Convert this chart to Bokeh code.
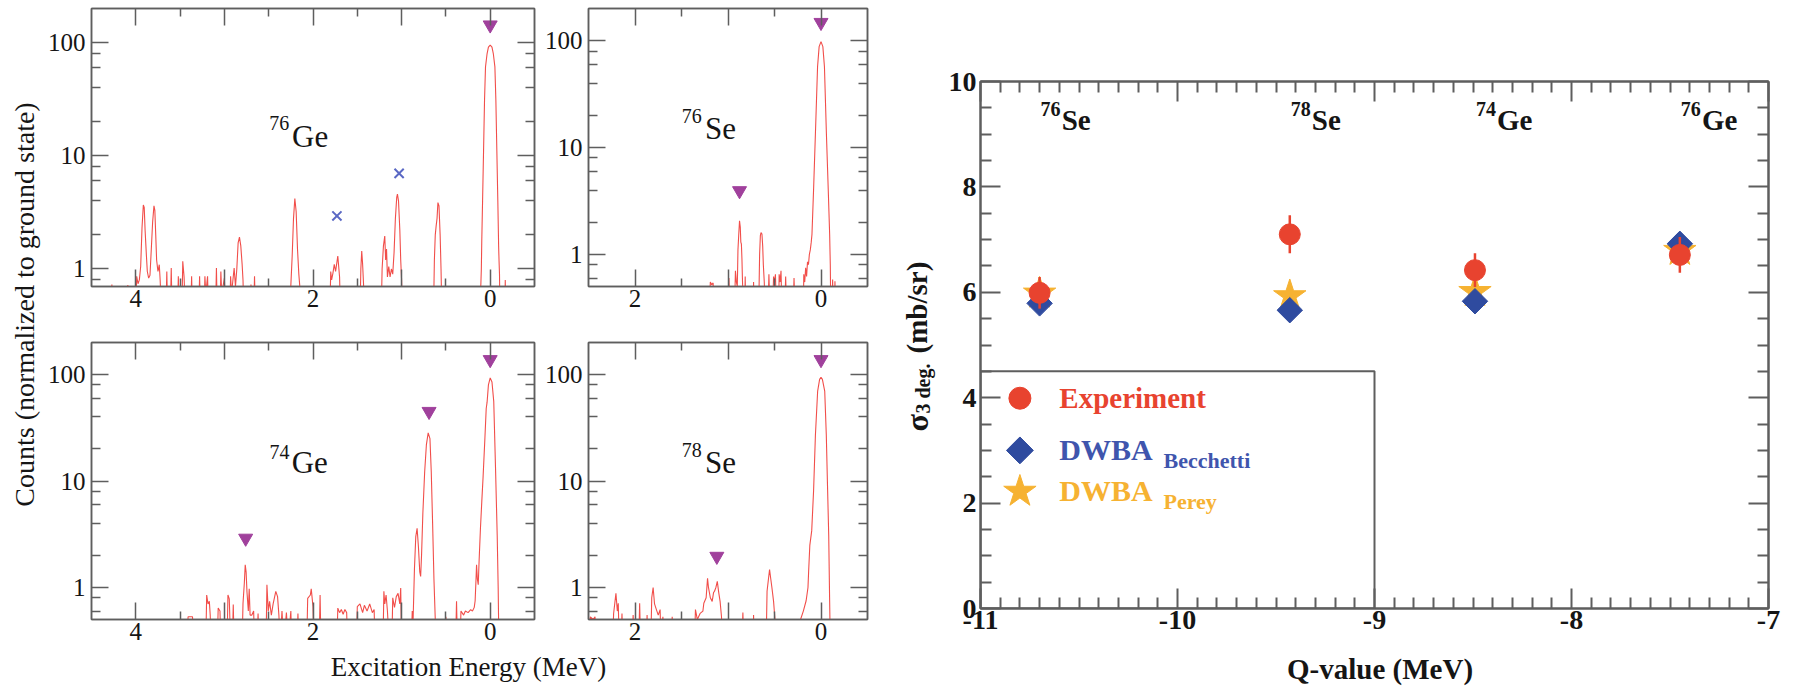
import math

from bokeh.embed import file_html
from bokeh.layouts import column, row
from bokeh.models import (BoxAnnotation, CustomJSTickFormatter, FixedTicker,
                          Label, LinearAxis, LogAxis, Range1d)
from bokeh.plotting import figure
from bokeh.resources import INLINE

# ---------------------------------------------------------------------------
# Excitation spectra: (excitation energy in MeV, counts normalised to g.s.)
# points below the lower axis limit simply run off the bottom of the frame
# ---------------------------------------------------------------------------
GE76 = [(4.50, 0.4), (4.28, 0.4), (4.27, 0.73), (4.26, 0.4), (4.10, 0.4), (4.09, 0.72), (4.08, 0.4),
        (4.00, 0.4), (3.99, 0.86), (3.975, 0.74), (3.96, 0.80), (3.945, 1.05), (3.93, 2.3), (3.915, 3.68),
        (3.905, 3.5), (3.895, 2.2), (3.88, 1.3), (3.87, 0.95), (3.855, 0.83), (3.84, 0.88), (3.825, 1.5),
        (3.81, 2.6), (3.795, 3.61), (3.785, 3.3), (3.775, 2.0), (3.765, 1.2), (3.75, 0.95), (3.735, 1.09),
        (3.725, 0.8), (3.71, 0.4), (3.66, 0.4), (3.65, 0.95), (3.64, 0.4), (3.61, 0.4), (3.60, 1.02),
        (3.59, 0.4), (3.53, 0.4), (3.52, 0.86), (3.51, 0.4), (3.48, 0.4), (3.47, 1.17), (3.455, 0.85),
        (3.44, 0.4), (3.38, 0.4), (3.37, 0.86), (3.36, 0.4), (3.29, 0.4), (3.28, 0.86), (3.27, 0.4),
        (3.23, 0.4), (3.22, 0.86), (3.21, 0.6), (3.19, 0.86), (3.18, 0.4), (3.10, 0.4), (3.09, 1.02),
        (3.08, 0.4), (3.05, 0.4), (3.04, 0.95), (3.03, 0.6), (3.00, 0.83), (2.99, 0.4), (2.94, 0.4),
        (2.93, 0.86), (2.92, 0.6), (2.89, 1.02), (2.875, 0.7), (2.86, 1.0), (2.845, 1.7), (2.83, 1.91),
        (2.815, 1.6), (2.80, 1.1), (2.79, 0.8), (2.78, 0.4), (2.71, 0.4), (2.70, 0.73), (2.69, 0.4),
        (2.67, 0.4), (2.66, 0.86), (2.65, 0.4), (2.26, 0.4), (2.25, 0.72), (2.235, 1.3), (2.22, 2.8),
        (2.205, 4.19), (2.19, 3.2), (2.175, 1.5), (2.16, 0.9), (2.15, 0.72), (2.14, 0.4), (1.81, 0.4),
        (1.80, 0.95), (1.79, 0.8), (1.775, 0.92), (1.76, 1.1), (1.745, 0.95), (1.73, 1.15), (1.72, 1.3),
        (1.71, 1.05), (1.70, 0.85), (1.69, 0.4), (1.47, 0.4), (1.46, 1.0), (1.45, 1.44), (1.44, 1.1),
        (1.43, 0.75), (1.42, 0.4), (1.23, 0.4), (1.22, 1.0), (1.205, 1.6), (1.19, 1.95), (1.18, 1.2),
        (1.17, 1.5), (1.16, 0.85), (1.145, 1.05), (1.13, 0.85), (1.115, 1.0), (1.10, 0.9), (1.085, 1.4),
        (1.07, 2.8), (1.055, 4.3), (1.047, 4.58), (1.035, 4.0), (1.02, 2.2), (1.01, 1.2), (1.00, 0.8),
        (0.99, 0.4), (0.64, 0.4), (0.63, 1.2), (0.62, 2.0), (0.61, 2.4), (0.60, 2.8), (0.59, 3.86),
        (0.578, 3.6), (0.565, 2.0), (0.555, 1.0), (0.545, 0.4), (0.12, 0.4), (0.105, 0.75), (0.10, 1.0),
        (0.095, 1.8), (0.086, 4.0), (0.075, 11), (0.064, 31), (0.053, 61), (0.035, 80), (0.02, 91),
        (0.0, 95), (-0.02, 91), (-0.035, 80), (-0.053, 61), (-0.064, 31), (-0.075, 11), (-0.086, 4.0),
        (-0.095, 1.6), (-0.10, 1.17), (-0.105, 0.9), (-0.11, 0.4), (-0.165, 0.4), (-0.17, 0.8),
        (-0.175, 0.4), (-0.50, 0.4)]

SE76 = [(2.50, 0.3), (1.20, 0.3), (1.19, 0.55), (1.175, 0.52), (1.16, 0.54), (1.15, 0.3), (1.00, 0.3),
        (0.99, 0.6), (0.98, 0.3), (0.93, 0.3), (0.92, 0.7), (0.91, 0.55), (0.90, 0.5), (0.893, 1.1),
        (0.885, 1.5), (0.876, 2.06), (0.868, 1.8), (0.862, 1.3), (0.856, 1.25), (0.85, 0.9), (0.845, 0.6),
        (0.835, 0.3), (0.82, 0.3), (0.815, 0.62), (0.81, 0.3), (0.73, 0.3), (0.725, 0.55), (0.72, 0.3),
        (0.67, 0.3), (0.66, 1.0), (0.652, 1.5), (0.645, 1.6), (0.635, 1.55), (0.627, 1.2), (0.62, 0.8),
        (0.61, 0.55), (0.60, 0.3), (0.57, 0.3), (0.56, 0.65), (0.55, 0.3), (0.52, 0.3), (0.51, 0.62),
        (0.50, 0.55), (0.49, 0.65), (0.48, 0.3), (0.455, 0.3), (0.45, 0.65), (0.44, 0.55), (0.43, 0.7),
        (0.42, 0.3), (0.39, 0.3), (0.38, 0.62), (0.37, 0.3), (0.30, 0.3), (0.29, 0.6), (0.28, 0.3),
        (0.19, 0.3), (0.185, 0.65), (0.175, 0.55), (0.165, 0.75), (0.155, 0.62), (0.145, 0.85),
        (0.135, 0.8), (0.125, 1.0), (0.115, 1.1), (0.105, 1.3), (0.097, 1.54), (0.08, 4.0), (0.06, 13.5),
        (0.037, 57), (0.02, 88), (0.0, 98), (-0.02, 88), (-0.037, 57), (-0.058, 13.5), (-0.078, 4.0),
        (-0.093, 1.54), (-0.10, 0.8), (-0.105, 0.3), (-0.12, 0.3), (-0.125, 0.58), (-0.13, 0.3),
        (-0.145, 0.3), (-0.15, 0.56), (-0.155, 0.3), (-0.50, 0.3)]

GE74 = [(4.50, 0.3), (3.42, 0.3), (3.41, 0.53), (3.36, 0.53), (3.35, 0.3), (3.21, 0.3), (3.20, 0.85),
        (3.185, 0.7), (3.17, 0.74), (3.16, 0.55), (3.15, 0.3), (3.08, 0.3), (3.07, 0.64), (3.05, 0.6),
        (3.04, 0.3), (2.97, 0.3), (2.96, 0.85), (2.945, 0.78), (2.93, 0.3), (2.91, 0.3), (2.90, 0.69),
        (2.89, 0.3), (2.80, 0.3), (2.79, 0.71), (2.775, 1.1), (2.765, 1.63), (2.755, 1.4), (2.745, 0.9),
        (2.73, 0.6), (2.72, 0.97), (2.71, 0.55), (2.69, 0.55), (2.67, 0.6), (2.66, 0.3), (2.63, 0.3),
        (2.62, 0.57), (2.61, 0.3), (2.53, 0.3), (2.52, 1.06), (2.505, 0.6), (2.49, 0.74), (2.47, 0.55),
        (2.45, 0.7), (2.42, 0.92), (2.40, 0.82), (2.385, 0.55), (2.37, 0.3), (2.35, 0.6), (2.33, 0.3),
        (2.30, 0.58), (2.28, 0.3), (2.25, 0.6), (2.24, 0.3), (2.18, 0.3), (2.17, 0.57), (2.16, 0.3),
        (2.07, 0.3), (2.06, 0.79), (2.03, 0.85), (2.02, 0.97), (2.00, 0.66), (1.99, 0.3), (1.93, 0.3),
        (1.92, 0.85), (1.91, 0.3), (1.73, 0.3), (1.72, 0.64), (1.70, 0.58), (1.68, 0.62), (1.66, 0.56),
        (1.64, 0.62), (1.62, 0.58), (1.61, 0.3), (1.51, 0.3), (1.50, 0.66), (1.47, 0.7), (1.44, 0.58),
        (1.42, 0.68), (1.39, 0.6), (1.36, 0.7), (1.33, 0.58), (1.31, 0.62), (1.30, 0.3), (1.21, 0.3),
        (1.20, 0.92), (1.19, 0.7), (1.175, 0.85), (1.16, 0.6), (1.14, 0.3), (1.11, 0.3), (1.10, 0.8),
        (1.08, 0.65), (1.06, 0.82), (1.04, 0.88), (1.02, 0.7), (1.01, 0.99), (1.00, 0.3), (0.89, 0.3),
        (0.88, 0.6), (0.87, 0.5), (0.855, 1.5), (0.84, 3.0), (0.825, 3.6), (0.81, 2.4), (0.795, 1.4),
        (0.785, 1.27), (0.775, 2.0), (0.76, 5.0), (0.74, 12), (0.72, 22), (0.70, 28.3), (0.68, 25),
        (0.665, 12), (0.65, 4.0), (0.635, 1.2), (0.62, 0.5), (0.61, 0.3), (0.51, 0.3), (0.50, 0.53),
        (0.49, 0.3), (0.39, 0.3), (0.38, 0.74), (0.37, 0.3), (0.34, 0.3), (0.33, 0.6), (0.30, 0.55),
        (0.28, 0.6), (0.25, 0.58), (0.22, 0.62), (0.20, 0.6), (0.18, 0.65), (0.17, 0.75), (0.16, 1.2),
        (0.154, 1.63), (0.145, 1.2), (0.135, 1.06), (0.125, 1.8), (0.11, 3.6), (0.095, 6.4), (0.08, 11),
        (0.06, 25), (0.045, 48), (0.035, 55), (0.02, 80), (0.0, 93), (-0.02, 85), (-0.04, 56),
        (-0.06, 13.3), (-0.079, 3.1), (-0.09, 1.0), (-0.098, 0.3), (-0.50, 0.3)]

SE78 = [(2.50, 0.3), (2.48, 0.53), (2.45, 0.5), (2.43, 0.53), (2.42, 0.3), (2.24, 0.3), (2.23, 0.57),
        (2.205, 0.88), (2.19, 0.6), (2.18, 0.71), (2.17, 0.3), (2.15, 0.3), (2.14, 0.57), (2.13, 0.3),
        (2.03, 0.3), (2.02, 0.55), (2.01, 0.3), (1.96, 0.3), (1.95, 0.71), (1.94, 0.3), (1.88, 0.3),
        (1.87, 0.55), (1.86, 0.3), (1.83, 0.3), (1.82, 0.8), (1.805, 1.0), (1.79, 0.7), (1.77, 0.62),
        (1.75, 0.55), (1.73, 0.62), (1.72, 0.3), (1.70, 0.53), (1.69, 0.3), (1.61, 0.3), (1.60, 0.53),
        (1.59, 0.3), (1.36, 0.3), (1.35, 0.62), (1.33, 0.5), (1.30, 0.57), (1.27, 0.6), (1.26, 0.71),
        (1.235, 0.8), (1.22, 1.22), (1.21, 1.0), (1.19, 0.8), (1.17, 0.74), (1.155, 0.9), (1.145, 0.92),
        (1.13, 1.0), (1.115, 1.14), (1.10, 0.9), (1.085, 0.74), (1.07, 0.53), (1.06, 0.3), (0.85, 0.3),
        (0.84, 0.58), (0.83, 0.3), (0.73, 0.3), (0.725, 0.55), (0.72, 0.3), (0.59, 0.3), (0.58, 0.92),
        (0.565, 1.2), (0.553, 1.47), (0.54, 1.2), (0.528, 1.0), (0.51, 0.74), (0.495, 0.5), (0.49, 0.3),
        (0.23, 0.3), (0.22, 0.5), (0.19, 0.6), (0.16, 0.75), (0.14, 1.0), (0.133, 1.41), (0.12, 2.5),
        (0.10, 3.4), (0.08, 8.0), (0.06, 27), (0.036, 70), (0.015, 90), (0.0, 94), (-0.015, 90),
        (-0.04, 70), (-0.057, 27), (-0.07, 9.0), (-0.083, 3.1), (-0.093, 0.74), (-0.10, 0.3), (-0.50, 0.3)]

# states marked above the peaks (energy, counts)
GE76_MARK_E, GE76_MARK_C = [0.0], [143]
GE76_CROSS_E, GE76_CROSS_C = [1.73, 1.028], [2.94, 6.99]
SE76_MARK_E, SE76_MARK_C = [0.0, 0.876], [148, 3.94]
GE74_MARK_E, GE74_MARK_C = [0.0, 0.69, 2.76], [138, 45, 2.9]
SE78_MARK_E, SE78_MARK_C = [0.0, 1.12], [138, 1.96]

# ---------------------------------------------------------------------------
# 3 degree cross sections versus Q-value
# ---------------------------------------------------------------------------
NUC_MASS = ["76", "78", "74", "76"]
NUC_SYM = ["Se", "Se", "Ge", "Ge"]
Q_VALUE = [-10.70, -9.43, -8.49, -7.45]
SIG_EXP = [5.99, 7.10, 6.42, 6.71]
SIG_EXP_ERR = [0.30, 0.36, 0.32, 0.34]
SIG_BECCHETTI = [5.79, 5.66, 5.83, 6.92]
SIG_PEREY = [5.98, 5.93, 6.01, 6.79]

SPEC_X_TICKS = [0, 1, 2, 3, 4]
SPEC_X_TICKS_NARROW = [0, 1, 2]
LOG_MAJOR = [1, 10, 100]
LOG_MINOR = [0.6, 0.8, 2, 4, 6, 8, 20, 40, 60, 80]

SERIF = "Liberation Serif"
FRAME = "#5e5e5e"
INK = "#151515"
SPEC_RED = "#ef3b36"
MARK_PURPLE = "#a0409c"
CROSS_BLUE = "#5a68c4"
EXP_RED = "#e8432f"
BEC_BLUE = "#2f4b9f"
BEC_TEXT = "#3f55ad"
PER_ORANGE = "#f6b232"

EVEN_ONLY = "const v = Math.round(tick); return (v % 2 === 0) ? String(v) : '';"
PLAIN = "return String(tick);"
BLANK = "return '';"


def style_axis(ax, major, minor, size, bold=False, standoff=4, labels=True, width=1.5):
    ax.axis_line_color = FRAME
    ax.axis_line_width = width
    ax.major_tick_line_color = FRAME
    ax.minor_tick_line_color = FRAME
    ax.major_tick_line_width = width
    ax.minor_tick_line_width = width
    ax.major_tick_in = major
    ax.major_tick_out = 0
    ax.minor_tick_in = minor
    ax.minor_tick_out = 0
    ax.major_label_text_font = SERIF
    ax.major_label_text_font_size = size
    ax.major_label_text_font_style = "bold" if bold else "normal"
    ax.major_label_text_color = INK
    ax.major_label_standoff = standoff
    if not labels:
        ax.formatter = CustomJSTickFormatter(code=BLANK)
        ax.major_label_text_color = None
        ax.major_label_standoff = 0


def tag(p, x, y, text, size, bold=False, color=INK, angle=0.0, align="left"):
    p.add_layout(Label(x=x, y=y, text=text, text_font=SERIF, text_font_size=f"{size}px",
                       text_font_style="bold" if bold else "normal", text_color=color,
                       angle=angle, text_align=align, text_baseline="alphabetic"))


def blank_canvas(width, height):
    c = figure(width=width, height=height, x_range=Range1d(0, width), y_range=Range1d(0, height),
               x_axis_type=None, y_axis_type=None, output_backend="svg",
               toolbar_location=None, min_border=0, outline_line_color=None)
    c.grid.visible = False
    return c


def spectrum_panel(points, x_start, x_major, y_start, width, height, borders):
    left, right, top, bottom = borders
    p = figure(width=width, height=height, x_range=Range1d(x_start, -0.5),
               y_range=Range1d(y_start, 200), y_axis_type="log",
               output_backend="svg", toolbar_location=None,
               min_border_left=left, min_border_right=right,
               min_border_top=top, min_border_bottom=bottom)
    p.grid.visible = False
    p.outline_line_color = FRAME
    p.outline_line_width = 1.5
    x_minor = [t + 0.5 for t in x_major[:-1]]

    p.xaxis.ticker = FixedTicker(ticks=x_major, minor_ticks=x_minor)
    p.xaxis.formatter = CustomJSTickFormatter(code=EVEN_ONLY)
    style_axis(p.xaxis[0], 17, 8, "25px", standoff=3)
    p.yaxis.ticker = FixedTicker(ticks=LOG_MAJOR, minor_ticks=LOG_MINOR)
    p.yaxis.formatter = CustomJSTickFormatter(code=PLAIN)
    style_axis(p.yaxis[0], 17, 9, "25px", standoff=6)

    top_ax = LinearAxis(ticker=FixedTicker(ticks=x_major, minor_ticks=x_minor))
    style_axis(top_ax, 17, 8, "25px", labels=False)
    p.add_layout(top_ax, "above")
    right_ax = LogAxis(ticker=FixedTicker(ticks=LOG_MAJOR, minor_ticks=LOG_MINOR))
    style_axis(right_ax, 17, 9, "25px", labels=False)
    p.add_layout(right_ax, "right")

    energies = [e for e, _ in points]
    counts = [c for _, c in points]
    p.line(energies, counts, line_color=SPEC_RED, line_width=1.1, line_alpha=0.9)
    return p


def add_marks(p, e, c):
    p.scatter(e, c, marker="inverted_triangle", size=14, fill_color=MARK_PURPLE,
              line_color=MARK_PURPLE)


# ---------------------------------------------------------------------------
# four spectra
# ---------------------------------------------------------------------------
p1 = spectrum_panel(GE76, 4.5, SPEC_X_TICKS, 0.7, 493, 325, (45, 3, 8, 39))
add_marks(p1, GE76_MARK_E, GE76_MARK_C)
p1.scatter(GE76_CROSS_E, GE76_CROSS_C, marker="x", size=13, line_color=CROSS_BLUE, line_width=2)
tag(p1, 2.495, 19.5, "76", 20)
tag(p1, 2.236, 14.8, "Ge", 31)

p2 = spectrum_panel(SE76, 2.5, SPEC_X_TICKS_NARROW, 0.5, 343, 325, (51, 13, 8, 39))
add_marks(p2, SE76_MARK_E, SE76_MARK_C)
tag(p2, 1.497, 19.6, "76", 20)
tag(p2, 1.246, 15.0, "Se", 31)

p3 = spectrum_panel(GE74, 4.5, SPEC_X_TICKS, 0.5, 493, 325, (45, 3, 17, 31))
add_marks(p3, GE74_MARK_E, GE74_MARK_C)
tag(p3, 2.49, 18.6, "74", 20)
tag(p3, 2.24, 14.9, "Ge", 31)

p4 = spectrum_panel(SE78, 2.5, SPEC_X_TICKS_NARROW, 0.5, 343, 325, (51, 13, 17, 31))
add_marks(p4, SE78_MARK_E, SE78_MARK_C)
tag(p4, 1.497, 19.4, "78", 20)
tag(p4, 1.246, 14.9, "Se", 31)

# shared axis titles of the spectra block
ylab = blank_canvas(44, 686)
tag(ylab, 24, 382, "Counts (normalized to ground state)", 28, angle=math.pi / 2, align="center")

xlab = blank_canvas(836, 36)
tag(xlab, 424, 20, "Excitation Energy (MeV)", 27, align="center")

# ---------------------------------------------------------------------------
# cross-section panel
# ---------------------------------------------------------------------------
p5 = figure(width=856, height=645, x_range=Range1d(-11, -7), y_range=Range1d(0, 10),
            output_backend="svg", toolbar_location=None,
            min_border_left=40, min_border_right=28, min_border_top=81, min_border_bottom=37)
p5.grid.visible = False
p5.outline_line_color = FRAME
p5.outline_line_width = 2

q_major = [-11, -10, -9, -8, -7]
q_minor = [-11 + 0.1 * i for i in range(41) if i % 10]
s_major = [0, 2, 4, 6, 8, 10]
s_minor = [0.5 * i for i in range(21) if i % 4]

p5.xaxis.ticker = FixedTicker(ticks=q_major, minor_ticks=q_minor)
p5.xaxis.formatter = CustomJSTickFormatter(code=PLAIN)
style_axis(p5.xaxis[0], 20, 11, "28px", bold=True, standoff=2, width=2)
p5.yaxis.ticker = FixedTicker(ticks=s_major, minor_ticks=s_minor)
p5.yaxis.formatter = CustomJSTickFormatter(code=PLAIN)
style_axis(p5.yaxis[0], 20, 11, "28px", bold=True, standoff=4, width=2)
q_top = LinearAxis(ticker=FixedTicker(ticks=q_major, minor_ticks=q_minor))
style_axis(q_top, 20, 11, "28px", labels=False, width=2)
p5.add_layout(q_top, "above")
s_right = LinearAxis(ticker=FixedTicker(ticks=s_major, minor_ticks=s_minor))
style_axis(s_right, 20, 11, "28px", labels=False, width=2)
p5.add_layout(s_right, "right")

# legend frame
p5.add_layout(BoxAnnotation(left=-11, right=-9, bottom=0, top=4.5, fill_alpha=0,
                            line_color=FRAME, line_alpha=1, line_width=2))

p5.scatter(Q_VALUE, SIG_PEREY, marker="star", size=34, color=PER_ORANGE)
p5.scatter(Q_VALUE, SIG_BECCHETTI, marker="square", angle=math.pi / 4, size=18, color=BEC_BLUE)
p5.segment(Q_VALUE, [s - e for s, e in zip(SIG_EXP, SIG_EXP_ERR)],
           Q_VALUE, [s + e for s, e in zip(SIG_EXP, SIG_EXP_ERR)],
           line_color=EXP_RED, line_width=2.5)
p5.scatter(Q_VALUE, SIG_EXP, marker="circle", size=21, color=EXP_RED)

# nucleus labels above each group of points
for q, mass, sym in zip(Q_VALUE, NUC_MASS, NUC_SYM):
    tag(p5, q + 0.005, 9.47, mass, 20, bold=True)
    tag(p5, q + 0.112, 9.26, sym, 29, bold=True)

# legend entries
p5.scatter([-10.80], [3.99], marker="circle", size=22, color=EXP_RED)
p5.scatter([-10.80], [3.0], marker="square", angle=math.pi / 4, size=19, color=BEC_BLUE)
p5.scatter([-10.80], [2.22], marker="star", size=34, color=PER_ORANGE)
tag(p5, -10.60, 3.99, "Experiment", 29, bold=True, color=EXP_RED)
tag(p5, -10.60, 3.015, "DWBA", 30, bold=True, color=BEC_TEXT)
tag(p5, -10.071, 2.815, "Becchetti", 22, bold=True, color=BEC_TEXT)
tag(p5, -10.60, 2.23, "DWBA", 30, bold=True, color=PER_ORANGE)
tag(p5, -10.071, 2.033, "Perey", 22, bold=True, color=PER_ORANGE)

# axis titles of the cross-section panel
sig_lab = blank_canvas(60, 686)
tag(sig_lab, 36, 255, "σ", 32, bold=True, angle=math.pi / 2)
tag(sig_lab, 42, 273, "3 deg.", 20, bold=True, angle=math.pi / 2)
tag(sig_lab, 36, 333, "(mb/sr)", 29, bold=True, angle=math.pi / 2)

q_lab = blank_canvas(856, 41)
tag(q_lab, 434, 18, "Q-value (MeV)", 29, bold=True, align="center")

page = row(ylab, column(row(p1, p2), row(p3, p4), xlab), sig_lab, column(p5, q_lab))

with open("out.html", "w") as fh:
    fh.write(file_html(page, INLINE))
